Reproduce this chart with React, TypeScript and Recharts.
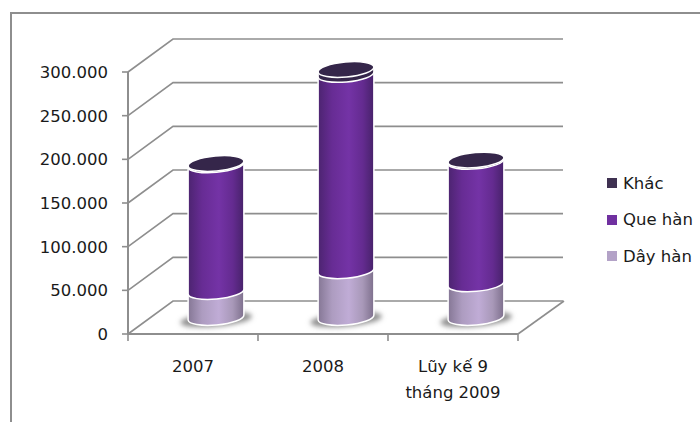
import { BarChart, Bar, XAxis, YAxis, CartesianGrid, Legend } from "recharts";

const categories = ["2007", "2008", "Lũy kế 9 tháng 2009"];
const categoryLines = [["2007"], ["2008"], ["Lũy kế 9", "tháng 2009"]];
const dayHan = [29700, 53500, 38500];
const queHan = [145100, 224800, 140300];
const khac = [1500, 5700, 1500];
const yTicks = [0, 50000, 100000, 150000, 200000, 250000, 300000];

const legendItems = [
  { name: "Khác", color: "#3f3151" },
  { name: "Que hàn", color: "#7030a0" },
  { name: "Dây hàn", color: "#b3a2c7" },
];

const data = categories.map((name, i) => ({
  name,
  dayHan: dayHan[i],
  queHan: queHan[i],
  khac: khac[i],
}));

const FONT = "'DejaVu Sans', sans-serif";
const GRID = "#8e8e8e";
const HEIGHT = 422;
const XAXIS_HEIGHT = 30;
const MARGIN = { top: 72, right: 182, bottom: 58, left: 8 };
const AXIS_Y = HEIGHT - MARGIN.bottom - XAXIS_HEIGHT;
const BAND = 130;

// 3D look: the back wall sits up and to the right of the axes
const DEPTH_X = 45;
const DEPTH_Y = -33;
const RX = 28;
const RY = 7.5;
const TILT = -5.2;
const TILT_RAD = (TILT * Math.PI) / 180;

const formatTick = (v: number) => String(v).replace(/\B(?=(\d{3})+$)/g, ".");

// one wall line: runs back along the side wall, then across the back wall
const WallLine = (props: any) => {
  const { x1, x2, y1, index } = props;
  const bx = x1 + DEPTH_X;
  const by = y1 + DEPTH_Y;
  const floor = y1 > AXIS_Y - 4;
  return (
    <g key={index}>
      <polyline points={`${x1},${y1} ${bx},${by} ${bx + x2 - x1},${by}`} fill="none" stroke={GRID} strokeWidth={1.6} />
      {floor && <line x1={x2} y1={y1} x2={x2 + DEPTH_X + 1} y2={by} stroke={GRID} strokeWidth={1.6} />}
    </g>
  );
};

const cylinder = (fill: string, opts: { cap?: boolean; shadow?: boolean }) => (props: any) => {
  const { x, y, width, height } = props;
  const cx = x + width / 2 + DEPTH_X / 2;
  const top = y + DEPTH_Y / 2;
  const bottom = y + height + DEPTH_Y / 2;
  const ex = RX * Math.cos(TILT_RAD);
  const ey = RX * Math.sin(TILT_RAD);
  const arc = `A${RX} ${RY} ${TILT} 0 0`;
  const body =
    `M${cx - ex},${bottom - ey} ${arc} ${cx + ex},${bottom + ey} ` +
    `L${cx + ex},${top + ey} ${arc} ${cx - ex},${top - ey} Z`;
  return (
    <g>
      {opts.shadow && (
        <ellipse cx={cx} cy={bottom + 2} rx={36} ry={7} fill="#8f8f8f" filter="url(#barShadow)" transform={`rotate(${TILT} ${cx} ${bottom})`} />
      )}
      <path d={body} fill={fill} stroke="#fff" strokeWidth={1.5} />
      {opts.cap && (
        <ellipse cx={cx} cy={top} rx={RX} ry={RY} fill="#35264a" stroke="#fff" strokeWidth={1.5} transform={`rotate(${TILT} ${cx} ${top})`} />
      )}
    </g>
  );
};

const CategoryTick = (props: any) => {
  const { x, index } = props;
  const left = x - BAND / 2;
  return (
    <g>
      <line x1={left} y1={AXIS_Y} x2={left} y2={AXIS_Y + 7} stroke={GRID} strokeWidth={1.6} />
      {index === categories.length - 1 && (
        <line x1={left + BAND} y1={AXIS_Y} x2={left + BAND} y2={AXIS_Y + 7} stroke={GRID} strokeWidth={1.6} />
      )}
      <text textAnchor="middle" fontFamily={FONT} fontSize={16.5} fill="#1a1a1a">
        {categoryLines[index].map((line, i) => (
          <tspan key={line} x={x} y={AXIS_Y + 38 + i * 26}>
            {line}
          </tspan>
        ))}
      </text>
    </g>
  );
};

const LegendBox = () => (
  <div style={{ fontFamily: FONT, fontSize: 16.5, color: "#1a1a1a" }}>
    {legendItems.map((item) => (
      <div key={item.name} style={{ display: "flex", alignItems: "center", height: 36.5 }}>
        <span style={{ width: 10, height: 10, background: item.color, marginRight: 6 }} />
        {item.name}
      </div>
    ))}
  </div>
);

export default function App() {
  return (
    <div style={{ position: "absolute", left: 0, top: 0, width: 700, height: HEIGHT, background: "#fff" }}>
      <div style={{ position: "absolute", left: 10, top: 12, right: 0, bottom: 0, borderLeft: `2px solid ${GRID}`, borderTop: `2px solid ${GRID}` }} />
      <BarChart width={700} height={HEIGHT} data={data} margin={MARGIN} barSize={55} style={{ position: "absolute", left: 0, top: 0 }}>
        <defs>
          <linearGradient id="dayFill" x1="0" y1="0" x2="1" y2="0">
            <stop offset="0" stopColor="#857795" />
            <stop offset="0.25" stopColor="#ad9cc0" />
            <stop offset="0.55" stopColor="#c0acd6" />
            <stop offset="0.8" stopColor="#a898b8" />
            <stop offset="1" stopColor="#7d6f8c" />
          </linearGradient>
          <linearGradient id="queFill" x1="0" y1="0" x2="1" y2="0">
            <stop offset="0" stopColor="#4c2470" />
            <stop offset="0.25" stopColor="#672c94" />
            <stop offset="0.55" stopColor="#7433a6" />
            <stop offset="0.8" stopColor="#642b90" />
            <stop offset="1" stopColor="#47226a" />
          </linearGradient>
          <filter id="barShadow" x="-30%" y="-80%" width="160%" height="260%">
            <feGaussianBlur stdDeviation="2.5" />
          </filter>
        </defs>
        <CartesianGrid vertical={false} horizontal={WallLine} />
        <XAxis
          dataKey="name"
          height={XAXIS_HEIGHT}
          axisLine={{ stroke: GRID, strokeWidth: 2 }}
          tickLine={false}
          tick={CategoryTick}
          interval={0}
        />
        <YAxis
          domain={[0, 300000]}
          ticks={yTicks}
          interval={0}
          width={120}
          tickFormatter={formatTick}
          axisLine={{ stroke: GRID, strokeWidth: 2 }}
          tickLine={{ stroke: GRID, strokeWidth: 1.6 }}
          tickSize={6}
          tickMargin={14}
          tick={{ fontFamily: FONT, fontSize: 16.5, fill: "#1a1a1a" }}
        />
        <Bar dataKey="dayHan" stackId="a" isAnimationActive={false} fill="#b3a2c7" shape={cylinder("url(#dayFill)", { shadow: true })} />
        <Bar dataKey="queHan" stackId="a" isAnimationActive={false} fill="#7030a0" shape={cylinder("url(#queFill)", {})} />
        <Bar dataKey="khac" stackId="a" isAnimationActive={false} fill="#3f3151" shape={cylinder("#35264a", { cap: true })} />
        <Legend layout="vertical" align="center" verticalAlign="middle" content={LegendBox} wrapperStyle={{ left: 607, top: 165, width: 93 }} />
      </BarChart>
    </div>
  );
}
